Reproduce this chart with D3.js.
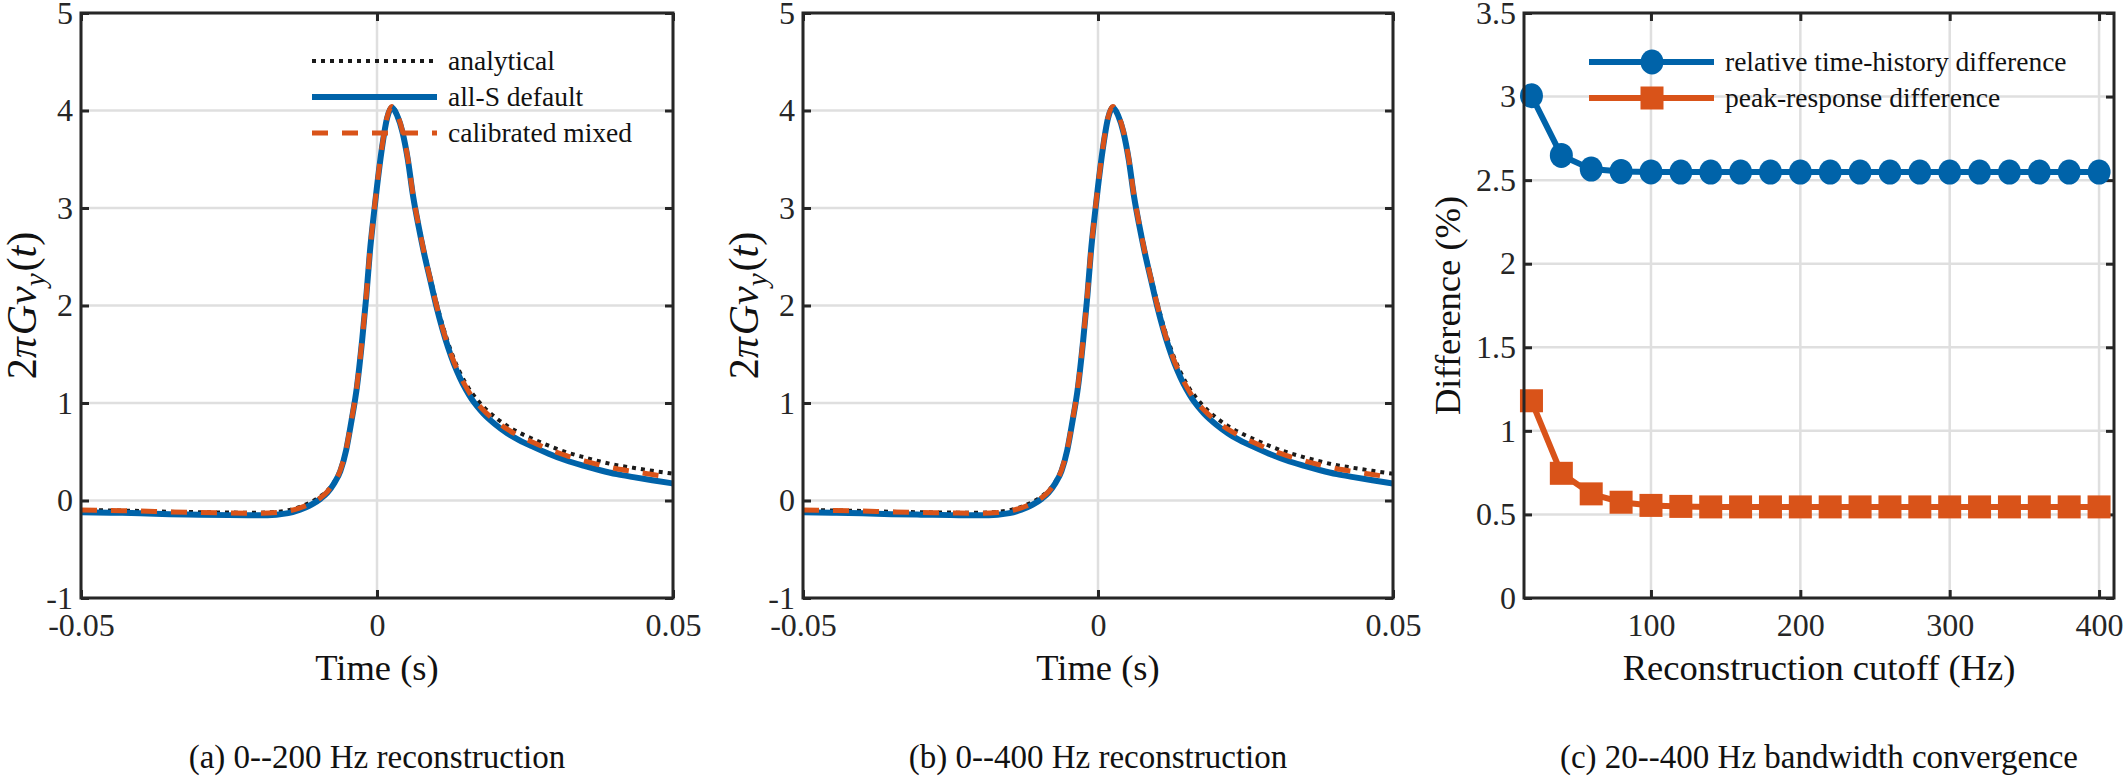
<!doctype html>
<html>
<head>
<meta charset="utf-8">
<script src="https://d3js.org/d3.v7.min.js"></script>
<style>
  body { margin: 0; background: #fff; }
  svg { font-family: 'Liberation Serif', 'Times New Roman', serif; background: #fff; }
  .grid line { stroke: #dfdfdf; stroke-width: 2.5px; }
  .axis .domain { display: none; }
  .axis line { stroke: #262626; stroke-width: 3px; }
  .axis text { font-family: 'Liberation Serif', serif; font-size: 32px; fill: #262626; }
  .box { fill: none; stroke: #262626; stroke-width: 3px; }
  .lbl { font-size: 36.5px; fill: #111; }
  .cap { font-size: 33px; fill: #111; }
  .leg { font-size: 27.5px; fill: #111; }
</style>
</head>
<body>
<svg width="2124" height="777"></svg>
<script>
// ---- data ----
// time axis (s) shared by panels (a) and (b)
const timeS = [-0.05,-0.045,-0.04,-0.035,-0.03,-0.025,-0.02,-0.017,-0.015,-0.013,-0.011,-0.0095,-0.0084,-0.0072,-0.0062,-0.0052,-0.0043,-0.0034,-0.0025,-0.0018,-0.0012,-0.0006,0,0.0008,0.0017,0.0025,0.0034,0.0043,0.0052,0.0061,0.007,0.0079,0.009,0.010,0.011,0.012,0.013,0.014,0.015,0.016,0.017,0.018,0.020,0.022,0.024,0.0264,0.029,0.032,0.035,0.0377,0.0405,0.0433,0.0465,0.05];

const analytical = [-0.098,-0.102,-0.107,-0.116,-0.12,-0.124,-0.125,-0.117,-0.1,-0.065,-0.012,0.045,0.10,0.195,0.315,0.535,0.83,1.17,1.66,2.11,2.56,2.91,3.23,3.61,3.93,4.04,3.96,3.79,3.51,3.135,2.84,2.575,2.29,2.04,1.815,1.62,1.452,1.315,1.2,1.105,1.028,0.96,0.852,0.765,0.697,0.63,0.562,0.495,0.443,0.4,0.362,0.335,0.305,0.275];
const allSDefault = [-0.12,-0.125,-0.13,-0.14,-0.145,-0.15,-0.152,-0.145,-0.13,-0.095,-0.04,0.02,0.08,0.18,0.30,0.52,0.82,1.16,1.65,2.10,2.55,2.90,3.22,3.60,3.92,4.03,3.95,3.78,3.50,3.12,2.82,2.55,2.26,2.00,1.77,1.57,1.40,1.26,1.14,1.04,0.96,0.89,0.78,0.69,0.62,0.55,0.48,0.41,0.355,0.31,0.27,0.24,0.208,0.175];
const calibratedMixed = [-0.098,-0.103,-0.108,-0.118,-0.123,-0.128,-0.130,-0.123,-0.108,-0.075,-0.025,0.03,0.09,0.19,0.31,0.53,0.83,1.17,1.66,2.11,2.56,2.91,3.23,3.61,3.93,4.04,3.96,3.79,3.51,3.13,2.83,2.56,2.27,2.015,1.785,1.588,1.42,1.285,1.168,1.07,0.993,0.925,0.818,0.731,0.663,0.595,0.527,0.46,0.407,0.364,0.326,0.298,0.267,0.235];

// panel (c)
const cutoffHz = [20,40,60,80,100,120,140,160,180,200,220,240,260,280,300,320,340,360,380,400];
const timeHistDiff = [3.005,2.648,2.566,2.552,2.549,2.548,2.548,2.548,2.548,2.548,2.548,2.548,2.548,2.548,2.548,2.548,2.548,2.548,2.548,2.548];
const peakRespDiff = [1.18,0.746,0.623,0.573,0.554,0.548,0.545,0.545,0.545,0.545,0.545,0.545,0.545,0.545,0.545,0.545,0.545,0.545,0.545,0.545];

const timeTicks = [-0.05, 0, 0.05];
const timeTickLabels = ["-0.05", "0", "0.05"];
const respTicks = [-1, 0, 1, 2, 3, 4, 5];
const hzTicks = [100, 200, 300, 400];
const diffTicks = [0, 0.5, 1, 1.5, 2, 2.5, 3, 3.5];
const diffTickLabels = ["0", "0.5", "1", "1.5", "2", "2.5", "3", "3.5"];

const legendA = ["analytical", "all-S default", "calibrated mixed"];
const legendC = ["relative time-history difference", "peak-response difference"];
const captions = ["(a) 0--200 Hz reconstruction", "(b) 0--400 Hz reconstruction", "(c) 20--400 Hz bandwidth convergence"];

const BLUE = "#0063a9", ORANGE = "#d95319", BLACK = "#1a1a1a";

const svg = d3.select("svg");
const plotTop = 13, plotBottom = 598;

function frame(g, x, y, xt, xtl, yt, ytl) {
  const w = x.range()[1] - x.range()[0];
  const h = y.range()[0] - y.range()[1];
  g.append("g").attr("class", "grid").selectAll("line").data(xt).join("line")
    .attr("x1", d => x(d)).attr("x2", d => x(d)).attr("y1", 0).attr("y2", h);
  g.append("g").attr("class", "grid").selectAll("line").data(yt).join("line")
    .attr("y1", d => y(d)).attr("y2", d => y(d)).attr("x1", 0).attr("x2", w);

  g.append("g").attr("class", "axis").attr("transform", "translate(0," + h + ")")
    .call(d3.axisBottom(x).tickValues(xt).tickSize(-8).tickSizeOuter(0).tickPadding(15)
      .tickFormat((d, i) => xtl[i]));
  g.append("g").attr("class", "axis")
    .call(d3.axisTop(x).tickValues(xt).tickSize(-8).tickSizeOuter(0).tickFormat(""));
  g.append("g").attr("class", "axis")
    .call(d3.axisLeft(y).tickValues(yt).tickSize(-8).tickSizeOuter(0).tickPadding(8)
      .tickFormat((d, i) => ytl[i]));
  g.append("g").attr("class", "axis").attr("transform", "translate(" + w + ",0)")
    .call(d3.axisRight(y).tickValues(yt).tickSize(-8).tickSizeOuter(0).tickFormat(""));
}

function boxOn(g, w, h) {
  g.append("rect").attr("class", "box").attr("width", w).attr("height", h);
}

// ---- panels (a) and (b) ----
[[81, 673, true], [803, 1393, false]].forEach(function (p, k) {
  const left = p[0], right = p[1];
  const w = right - left, h = plotBottom - plotTop;
  const x = d3.scaleLinear().domain([-0.05, 0.05]).range([0, w]);
  const y = d3.scaleLinear().domain([-1, 5]).range([h, 0]);
  const g = svg.append("g").attr("transform", "translate(" + left + "," + plotTop + ")");
  frame(g, x, y, timeTicks, timeTickLabels, respTicks, respTicks.map(String));

  const clipId = "clip" + k;
  g.append("clipPath").attr("id", clipId).append("rect").attr("width", w).attr("height", h);

  const line = d3.line().x(d => x(d[0])).y(d => y(d[1])).curve(d3.curveMonotoneX);
  const curves = g.append("g").attr("clip-path", "url(#" + clipId + ")");
  curves.append("path").attr("d", line(d3.zip(timeS, analytical)))
    .attr("fill", "none").attr("stroke", BLACK).attr("stroke-width", 4).attr("stroke-dasharray", "4,5");
  curves.append("path").attr("d", line(d3.zip(timeS, allSDefault)))
    .attr("fill", "none").attr("stroke", BLUE).attr("stroke-width", 6);
  curves.append("path").attr("d", line(d3.zip(timeS, calibratedMixed)))
    .attr("fill", "none").attr("stroke", ORANGE).attr("stroke-width", 5).attr("stroke-dasharray", "16,14");
  boxOn(g, w, h);

  // y label (math)
  const yl = svg.append("text").attr("class", "lbl")
    .attr("transform", "translate(" + (left - 45) + "," + (plotTop + h / 2) + ") rotate(-90)")
    .attr("text-anchor", "middle").style("font-size", "42px");
  yl.append("tspan").text("2");
  yl.append("tspan").attr("font-style", "italic").text("π");
  yl.append("tspan").attr("font-style", "italic").attr("dx", 2).text("Gv");
  yl.append("tspan").attr("font-style", "italic").attr("dy", 9).style("font-size", "29px").text("y");
  yl.append("tspan").attr("dy", -9).attr("dx", 2).text("(");
  yl.append("tspan").attr("font-style", "italic").text("t");
  yl.append("tspan").text(")");

  svg.append("text").attr("class", "lbl").attr("x", left + w / 2).attr("y", 680)
    .attr("text-anchor", "middle").text("Time (s)");
  svg.append("text").attr("class", "cap").attr("x", left + w / 2).attr("y", 768)
    .attr("text-anchor", "middle").text(captions[k]);

  if (p[2]) {
    const lg = svg.append("g");
    const styles = [
      { c: BLACK, sw: 4, da: "4,5" },
      { c: BLUE, sw: 6, da: null },
      { c: ORANGE, sw: 5, da: "16,14" }
    ];
    legendA.forEach(function (name, i) {
      const yy = 61 + i * 36;
      lg.append("line").attr("x1", 312).attr("x2", 437).attr("y1", yy).attr("y2", yy)
        .attr("stroke", styles[i].c).attr("stroke-width", styles[i].sw)
        .attr("stroke-dasharray", styles[i].da);
      lg.append("text").attr("class", "leg").attr("x", 448).attr("y", yy).attr("dy", "0.33em").text(name);
    });
  }
});

// ---- panel (c) ----
(function () {
  const left = 1524, right = 2114;
  const w = right - left, h = plotBottom - plotTop;
  const x = d3.scaleLinear().domain([15, 410]).range([0, w]);
  const y = d3.scaleLinear().domain([0, 3.5]).range([h, 0]);
  const g = svg.append("g").attr("transform", "translate(" + left + "," + plotTop + ")");
  frame(g, x, y, hzTicks, hzTicks.map(String), diffTicks, diffTickLabels);

  const line = d3.line().x(d => x(d[0])).y(d => y(d[1]));
  const blueData = d3.zip(cutoffHz, timeHistDiff);
  const orangeData = d3.zip(cutoffHz, peakRespDiff);
  g.append("path").attr("d", line(blueData)).attr("fill", "none").attr("stroke", BLUE).attr("stroke-width", 6);
  g.selectAll(".mc").data(blueData).join("ellipse").attr("class", "mc")
    .attr("cx", d => x(d[0])).attr("cy", d => y(d[1])).attr("rx", 11.5).attr("ry", 12.5).attr("fill", BLUE);
  g.append("path").attr("d", line(orangeData)).attr("fill", "none").attr("stroke", ORANGE).attr("stroke-width", 6);
  g.selectAll(".ms").data(orangeData).join("rect").attr("class", "ms")
    .attr("x", d => x(d[0]) - 11.5).attr("y", d => y(d[1]) - 11.5).attr("width", 23).attr("height", 23)
    .attr("fill", ORANGE);
  boxOn(g, w, h);

  // legend
  const lg = svg.append("g");
  [[BLUE, "c"], [ORANGE, "s"]].forEach(function (s, i) {
    const yy = 62 + i * 36;
    lg.append("line").attr("x1", 1589).attr("x2", 1714).attr("y1", yy).attr("y2", yy)
      .attr("stroke", s[0]).attr("stroke-width", 6);
    if (s[1] === "c") {
      lg.append("ellipse").attr("cx", 1652).attr("cy", yy).attr("rx", 11.5).attr("ry", 12.5).attr("fill", s[0]);
    } else {
      lg.append("rect").attr("x", 1652 - 11.5).attr("y", yy - 11.5).attr("width", 23).attr("height", 23).attr("fill", s[0]);
    }
    lg.append("text").attr("class", "leg").attr("x", 1725).attr("y", yy).attr("dy", "0.33em").text(legendC[i]);
  });

  svg.append("text").attr("class", "lbl")
    .attr("transform", "translate(" + (left - 64) + "," + (plotTop + h / 2) + ") rotate(-90)")
    .attr("text-anchor", "middle").text("Difference (%)");
  svg.append("text").attr("class", "lbl").attr("x", left + w / 2).attr("y", 680)
    .attr("text-anchor", "middle").text("Reconstruction cutoff (Hz)");
  svg.append("text").attr("class", "cap").attr("x", left + w / 2).attr("y", 768)
    .attr("text-anchor", "middle").text(captions[2]);
})();
</script>
</body>
</html>
